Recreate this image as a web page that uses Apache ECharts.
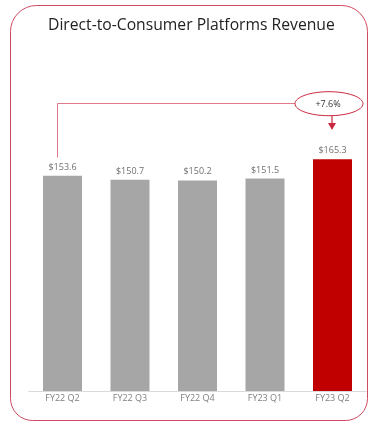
<!DOCTYPE html>
<html>
<head>
<meta charset="utf-8">
<script src="https://cdn.jsdelivr.net/npm/echarts@6/dist/echarts.min.js"></script>
<style>
  html, body { margin: 0; padding: 0; background: #fff; }
  #main { width: 370px; height: 423px; }
</style>
</head>
<body>
<div id="main"></div>
<script>
var quarters = ['FY22 Q2', 'FY22 Q3', 'FY22 Q4', 'FY23 Q1', 'FY23 Q2'];
var revenue = [153.6, 150.7, 150.2, 151.5, 165.3];
var growthLabel = '+7.6%';

var chart = echarts.init(document.getElementById('main'));
var font = '"Open Sans", "Noto Sans", sans-serif';

var option = {
    animation: false,
    title: {
        text: 'Direct-to-Consumer Platforms Revenue',
        left: 43,
        top: 13,
        textStyle: { fontFamily: font, fontSize: 15.7, fontWeight: 'normal', color: '#222' }
    },
    grid: { left: 28.75, right: 3.75, top: 110.6, bottom: 32 },
    xAxis: {
        type: 'category',
        data: quarters,
        axisLine: { lineStyle: { color: '#dadada' } },
        axisTick: { show: false },
        axisLabel: { color: '#7f7f7f', fontSize: 9, fontFamily: font, margin: 3 }
    },
    yAxis: { type: 'value', min: 0, max: 200, show: false },
    series: [{
        type: 'bar',
        barWidth: 39,
        data: revenue.map(function (v, i) {
            return { value: v, itemStyle: { color: i === revenue.length - 1 ? '#c00000' : '#a6a6a6' } };
        }),
        label: {
            show: true,
            position: 'top',
            distance: 4,
            color: '#6f6f6f',
            fontSize: 9,
            fontFamily: font,
            formatter: function (p) { return '$' + p.value.toFixed(1); }
        }
    }]
};
chart.setOption(option);

// annotation anchored to the first and last bars
var first = chart.convertToPixel({ gridIndex: 0 }, [0, revenue[0]]);
var last = chart.convertToPixel({ gridIndex: 0 }, [revenue.length - 1, revenue[revenue.length - 1]]);
var lineY = 103.5;
var red = '#c8283e';
var ex = last[0] - 3.5;

chart.setOption({
    graphic: [
        {
            type: 'rect', silent: true,
            shape: { x: 10.5, y: 5.5, width: 357, height: 415, r: [26, 26, 22, 22] },
            style: { fill: null, stroke: '#cf4a60', lineWidth: 1 }
        },
        {
            type: 'polyline', silent: true,
            shape: { points: [[first[0] - 5, first[1] - 18], [first[0] - 5, lineY], [ex - 34, lineY]] },
            style: { fill: null, stroke: '#e07a8a', lineWidth: 1 }
        },
        {
            type: 'ellipse', silent: true,
            shape: { cx: ex, cy: lineY + 0.2, rx: 34, ry: 12 },
            style: { fill: '#fff', stroke: red, lineWidth: 1 }
        },
        {
            type: 'text', silent: true,
            x: ex - 1, y: lineY + 0.5,
            style: { text: growthLabel, fill: '#333', fontSize: 9, fontFamily: font, align: 'center', verticalAlign: 'middle' }
        },
        {
            type: 'line', silent: true,
            shape: { x1: last[0] - 0.5, y1: lineY + 12, x2: last[0] - 0.5, y2: lineY + 21 },
            style: { stroke: red, lineWidth: 1.2 }
        },
        {
            type: 'polygon', silent: true,
            shape: { points: [[last[0] - 4.5, lineY + 19.5], [last[0] + 3.5, lineY + 19.5], [last[0] - 0.5, lineY + 26.5]] },
            style: { fill: red }
        }
    ]
});
</script>
</body>
</html>
